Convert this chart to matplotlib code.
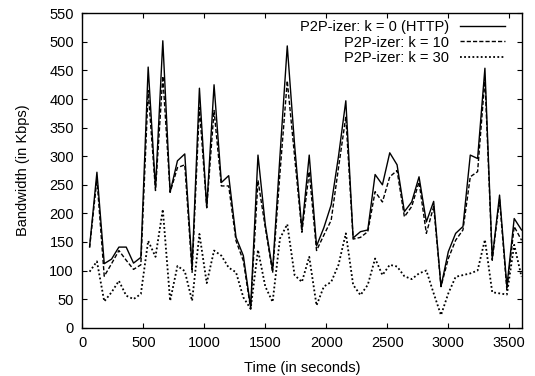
import matplotlib
matplotlib.use("Agg")
import matplotlib.pyplot as plt

time_s = [60 * i for i in range(1, 61)]

http_k0 = [142, 272, 112, 120, 141, 141, 113, 123, 456, 244,
           502, 237, 292, 304, 106, 419, 210, 425, 254, 266,
           158, 126, 36, 302, 180, 101, 300, 493, 320, 172,
           302, 143, 175, 215, 300, 397, 157, 168, 171, 268,
           250, 306, 285, 203, 220, 264, 185, 221, 72, 133,
           165, 177, 302, 296, 454, 121, 232, 72, 191, 171]

p2p_k10 = [140, 260, 90, 112, 135, 118, 102, 110, 415, 240,
           440, 237, 280, 285, 97, 385, 210, 380, 248, 248,
           152, 117, 33, 258, 175, 96, 270, 432, 300, 167,
           273, 135, 162, 188, 280, 369, 155, 158, 168, 238,
           220, 264, 275, 194, 212, 255, 165, 212, 72, 121,
           153, 171, 264, 273, 436, 118, 224, 66, 177, 153]

p2p_k30 = [98, 116, 46, 62, 82, 56, 50, 59, 152, 124,
           207, 47, 108, 99, 47, 164, 78, 135, 126, 105,
           97, 53, 33, 136, 72, 45, 156, 181, 92, 80,
           124, 39, 72, 80, 110, 165, 75, 57, 75, 121,
           92, 110, 107, 90, 85, 95, 100, 60, 22, 60,
           89, 92, 95, 100, 154, 62, 60, 58, 145, 89]

labels = ["P2P-izer: k = 0 (HTTP)", "P2P-izer: k = 10", "P2P-izer: k = 30"]
x_ticks = [0, 500, 1000, 1500, 2000, 2500, 3000, 3500]
y_ticks = list(range(0, 551, 50))

plt.rcParams['font.family'] = ['Liberation Sans', 'DejaVu Sans']
plt.rcParams['font.size'] = 10.5

fig = plt.figure(figsize=(5.35, 3.76), dpi=100)
ax = fig.add_axes([0.1538, 0.1285, 0.821, 0.836])

ax.plot(time_s, http_k0, color='black', lw=1.0, ls='-', label=labels[0])
ax.plot(time_s, p2p_k10, color='black', lw=1.0, ls=(0, (3, 1.5)), label=labels[1])
ax.plot(time_s, p2p_k30, color='black', lw=1.3, ls=(0, (1, 1.3)), label=labels[2])

ax.set_xlim(0, 3600)
ax.set_ylim(0, 550)
ax.set_xticks(x_ticks)
ax.set_yticks(y_ticks)
ax.tick_params(direction='in', length=3.5, width=0.8, top=True, right=True, pad=6)
for s in ax.spines.values():
    s.set_linewidth(1.0)

ax.set_xlabel("Time (in seconds)", labelpad=8)
ax.set_ylabel("Bandwidth (in Kbps)", labelpad=14)

leg = ax.legend(loc='upper right', bbox_to_anchor=(0.985, 1.012), frameon=False,
                markerfirst=False, handlelength=3.1, handletextpad=0.7,
                labelspacing=0.12, borderpad=0.2)

fig.savefig("out.png", dpi=100)
